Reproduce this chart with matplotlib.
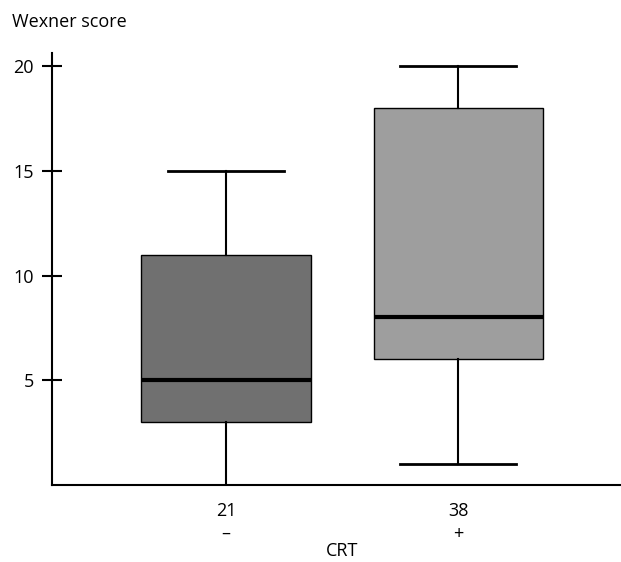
import matplotlib.pyplot as plt
import matplotlib.transforms as mtransforms
import numpy as np

plt.rcParams['font.family'] = ['Open Sans', 'DejaVu Sans']

# data
groups = ['\u2013', '+']
counts = [21, 38]
whislo = [0, 1]
q1 = [3, 6]
med = [5, 8]
q3 = [11, 18]
whishi = [15, 20]
fills = ['#707070', '#9e9e9e']

stats = []
for i in range(len(groups)):
    stats.append({'whislo': whislo[i], 'q1': q1[i], 'med': med[i],
                  'q3': q3[i], 'whishi': whishi[i], 'fliers': []})

fig = plt.figure(figsize=(6.21, 5.62), dpi=100)
ax = fig.add_axes([0.0837, 0.137, 0.9163, 0.7692])

bp = ax.bxp(stats, positions=[1, 2], widths=0.73, patch_artist=True,
            showfliers=False,
            boxprops=dict(linewidth=1.0, edgecolor='black'),
            medianprops=dict(color='black', linewidth=3),
            whiskerprops=dict(color='black', linewidth=1.5),
            capprops=dict(color='black', linewidth=2),
            capwidths=0.5)
for patch, c in zip(bp['boxes'], fills):
    patch.set_facecolor(c)

ax.set_xlim(0.25, 2.70)
ax.set_ylim(0, 20.64)
ax.set_yticks([5, 10, 15, 20])
ax.set_xticks([1, 2])
ax.set_xticklabels([f"{n}\n{g}" for n, g in zip(counts, groups)], linespacing=1.35)
ax.tick_params(axis='x', length=0, pad=12, labelsize=13)
ax.tick_params(axis='y', direction='inout', length=14, width=1.5, pad=6, labelsize=13)

ax.spines['top'].set_visible(False)
ax.spines['right'].set_visible(False)
ax.spines['left'].set_linewidth(1.5)
ax.spines['bottom'].set_linewidth(1.5)

# x-axis title sits between the two groups
trans = mtransforms.blended_transform_factory(ax.transData, fig.transFigure)
ax.text(1.5, 1 - 551 / 562, 'CRT', fontsize=13, ha='center', va='center',
        transform=trans)
fig.text(12 / 621, 1 - 22 / 562, 'Wexner score', fontsize=13, va='center', ha='left')

fig.savefig('out.png', dpi=100)
